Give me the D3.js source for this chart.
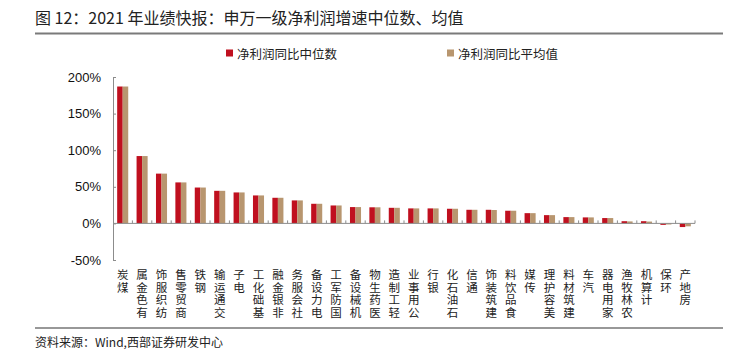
<!DOCTYPE html>
<html>
<head>
<meta charset="utf-8">
<script src="https://cdn.jsdelivr.net/npm/d3@7"></script>
<style>
  body { margin: 0; background: #fff; }
  svg { display: block; }
  .cjk { font-family: "Noto Sans CJK SC", sans-serif; }
  .num { font-family: "Liberation Sans", Arial, sans-serif; }
  .vert { writing-mode: vertical-rl; text-orientation: upright; }
</style>
</head>
<body>
<div id="chart"></div>
<script>
// industries (申万一级), sorted by median growth
const categories = ["煤炭", "有色金属", "纺织服饰", "商贸零售", "钢铁", "交通运输", "电子", "基础化工",
  "非银金融", "社会服务", "电力设备", "国防军工", "机械设备", "医药生物", "轻工制造", "公用事业",
  "银行", "石油石化", "通信", "建筑装饰", "食品饮料", "传媒", "美容护理", "建筑材料", "汽车",
  "家用电器", "农林牧渔", "计算机", "环保", "房地产"];
const medianValues = [187, 92, 68, 56, 49, 44.5, 42.3, 38.2, 35, 31.4, 26.8, 24.5, 22.3, 22, 21.3, 20.5,
  20.5, 20, 18.6, 18.6, 17.3, 14, 11.3, 8.6, 8.2, 7.3, 3, 3, -2, -5];
const meanValues = [187, 92, 68, 56, 49, 44.5, 42.3, 38.2, 35, 31.4, 26.8, 24.5, 22.3, 22, 21.3, 20.5,
  20.5, 20, 18.6, 18.3, 17.3, 14, 11.3, 8.6, 8.2, 7.3, 2.7, 2.5, -1.5, -4];
const seriesNames = ["净利润同比中位数", "净利润同比平均值"];
const yTicks = [-50, 0, 50, 100, 150, 200];

const W = 733, H = 364;
const colors = ["#C0101F", "#B8966F"];
const axisColor = "#8c8c8c";

const svg = d3.select("#chart").append("svg")
    .attr("width", W)
    .attr("height", H);

// title + rule
svg.append("text")
    .attr("class", "cjk")
    .attr("x", 35).attr("y", 24)
    .attr("font-size", 16)
    .attr("fill", "#222")
    .text("图 12：2021 年业绩快报：申万一级净利润增速中位数、均值");
svg.append("line")
    .attr("x1", 35).attr("x2", 723)
    .attr("y1", 33.5).attr("y2", 33.5)
    .attr("stroke", "#7a7a7a").attr("stroke-width", 2);

// scales
const x = d3.scaleBand()
    .domain(categories)
    .range([113, 695])
    .paddingInner(0.43)
    .paddingOuter(0.215);
const xs = d3.scaleBand()
    .domain([0, 1])
    .range([0, x.bandwidth()]);
const y = d3.scaleLinear()
    .domain([-50, 200])
    .range([260, 77]);

// bars
const rows = categories.map(function(c, i) {
    return { cat: c, vals: [medianValues[i], meanValues[i]] };
});
const groups = svg.append("g").selectAll("g")
    .data(rows)
    .join("g")
    .attr("transform", function(d) { return "translate(" + x(d.cat) + ",0)"; });
groups.selectAll("rect")
    .data(function(d) { return d.vals; })
    .join("rect")
    .attr("x", function(d, i) { return xs(i); })
    .attr("width", xs.bandwidth())
    .attr("y", function(d) { return y(Math.max(0, d)); })
    .attr("height", function(d) { return Math.abs(y(d) - y(0)); })
    .attr("fill", function(d, i) { return colors[i]; });

// y axis
const yAxis = svg.append("g")
    .attr("transform", "translate(113,0)")
    .call(d3.axisLeft(y).tickValues(yTicks).tickSize(-3).tickPadding(12)
        .tickFormat(function(d) { return d + "%"; }));
yAxis.select(".domain").attr("stroke", axisColor);
yAxis.selectAll(".tick line").attr("stroke", axisColor);
yAxis.selectAll("text")
    .attr("class", "num")
    .attr("font-size", 13)
    .attr("fill", "#111");

// x axis on zero line, ticks between categories pointing up
const step = x.step();
const boundaries = categories.map(function(c) { return x(c) - (step - x.bandwidth()) / 2; });
boundaries.push(695);
svg.append("line")
    .attr("x1", 113).attr("x2", 695)
    .attr("y1", y(0)).attr("y2", y(0))
    .attr("stroke", axisColor);
svg.append("g").selectAll("line")
    .data(boundaries.slice(1))
    .join("line")
    .attr("x1", function(d) { return d; }).attr("x2", function(d) { return d; })
    .attr("y1", y(0)).attr("y2", y(0) - 3)
    .attr("stroke", axisColor);

// category labels, stacked characters read bottom-up
svg.append("g").selectAll("text")
    .data(categories)
    .join("text")
    .attr("class", "cjk vert")
    .attr("x", function(d) { return x(d) + x.bandwidth() / 2; })
    .attr("y", 269)
    .attr("font-size", 11.5)
    .attr("letter-spacing", 1)
    .attr("fill", "#222")
    .text(function(d) { return Array.from(d).reverse().join(""); });

// legend
const legendX = [226, 447];
const legend = svg.append("g").selectAll("g")
    .data(seriesNames)
    .join("g")
    .attr("transform", function(d, i) { return "translate(" + legendX[i] + ",53)"; });
legend.append("rect")
    .attr("x", 0).attr("y", -3.5)
    .attr("width", 7).attr("height", 7)
    .attr("fill", function(d, i) { return colors[i]; });
legend.append("text")
    .attr("class", "cjk")
    .attr("x", 11).attr("y", 0)
    .attr("dominant-baseline", "central")
    .attr("font-size", 12.5)
    .attr("fill", "#222")
    .text(function(d) { return d; });

// source
svg.append("line")
    .attr("x1", 35).attr("x2", 723)
    .attr("y1", 328).attr("y2", 328)
    .attr("stroke", "#333").attr("stroke-width", 1.2);
svg.append("text")
    .attr("class", "cjk")
    .attr("x", 35).attr("y", 347)
    .attr("font-size", 12)
    .attr("fill", "#222")
    .text("资料来源：Wind,西部证券研发中心");
</script>
</body>
</html>
